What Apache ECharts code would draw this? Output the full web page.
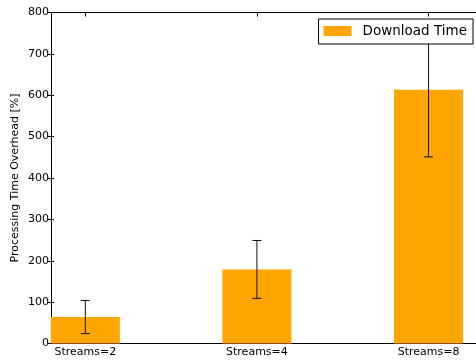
<!DOCTYPE html>
<html>
<head>
<meta charset="utf-8">
<script src="https://cdn.jsdelivr.net/npm/echarts@6/dist/echarts.min.js"></script>
<style>
  html, body { margin: 0; padding: 0; background: #fff; }
  #chart { width: 476px; height: 362px; }
</style>
</head>
<body>
<div id="chart"></div>
<script>
// Stream counts and their measured overhead (mean with symmetric error)
const categories = ['Streams=2', 'Streams=4', 'Streams=8'];
const positions = [0, 1, 2];
const overheadMean = [64, 179, 613];
const overheadErr = [40, 70, 162];
const yTicks = [0, 100, 200, 300, 400, 500, 600, 700, 800];

const FONT = 'DejaVu Sans';

const barData = positions.map((p, i) => [p, overheadMean[i]]);
const errData = positions.map((p, i) => [p, overheadMean[i] - overheadErr[i], overheadMean[i] + overheadErr[i]]);

const chart = echarts.init(document.getElementById('chart'), null, { renderer: 'canvas' });

const xCommon = {
  type: 'value',
  min: -0.2,
  max: 2.3,
  splitLine: { show: false },
  axisLine: { show: true, onZero: false, lineStyle: { color: '#000', width: 1 } }
};

chart.setOption({
  animation: false,
  backgroundColor: '#fff',
  grid: { left: 51, right: -4, top: 12.5, bottom: 18.5, containLabel: false, outerBoundsMode: 'none' },
  legend: {
    data: ['Download Time'],
    right: 3,
    top: 19,
    padding: [5, 6, 6, 5],
    itemWidth: 28,
    itemHeight: 10,
    itemGap: 0,
    backgroundColor: '#fff',
    borderColor: '#000',
    borderWidth: 1,
    borderRadius: 0,
    icon: 'rect',
    textStyle: { fontFamily: FONT, fontSize: 13.5, color: '#000', padding: [0, 0, 0, 6] }
  },
  xAxis: [
    Object.assign({}, xCommon, {
      position: 'bottom',
      axisTick: { show: true, inside: true, length: 4, customValues: positions, lineStyle: { color: '#000' } },
      axisLabel: {
        show: true,
        customValues: positions,
        margin: 3,
        fontFamily: FONT,
        fontSize: 11,
        color: '#000',
        formatter: v => categories[positions.indexOf(Math.round(v))] || ''
      }
    }),
    Object.assign({}, xCommon, {
      position: 'top',
      axisTick: { show: true, inside: true, length: 4, customValues: positions, lineStyle: { color: '#000' } },
      axisLabel: { show: false }
    })
  ],
  yAxis: [
    {
      type: 'value',
      position: 'left',
      min: yTicks[0],
      max: yTicks[yTicks.length - 1],
      interval: 100,
      name: 'Processing Time Overhead [%]',
      nameLocation: 'middle',
      nameGap: 30,
      nameMoveOverlap: false,
      nameTextStyle: { fontFamily: FONT, fontSize: 11, color: '#000' },
      splitLine: { show: false },
      axisLine: { show: true, onZero: false, lineStyle: { color: '#000', width: 1 } },
      axisTick: { show: true, inside: false, length: 3, lineStyle: { color: '#000' } },
      axisLabel: { show: true, margin: 2, fontFamily: FONT, fontSize: 11, color: '#000' }
    },
    {
      type: 'value',
      position: 'left',
      offset: 0,
      min: yTicks[0],
      max: yTicks[yTicks.length - 1],
      interval: 100,
      splitLine: { show: false },
      axisLine: { show: false, onZero: false },
      axisTick: { show: true, inside: true, length: 3, lineStyle: { color: '#000' } },
      axisLabel: { show: false }
    }
  ],
  series: [
    {
      name: 'Download Time',
      type: 'bar',
      xAxisIndex: 0,
      yAxisIndex: 0,
      data: barData,
      barWidth: 69,
      itemStyle: { color: '#FFA500' },
      z: 2
    },
    {
      name: 'error',
      type: 'custom',
      xAxisIndex: 0,
      yAxisIndex: 0,
      data: errData,
      z: 3,
      renderItem: function (params, api) {
        const x = api.value(0);
        const lo = api.coord([x, api.value(1)]);
        const hi = api.coord([x, api.value(2)]);
        const cap = 4.5;
        const style = { stroke: '#111', lineWidth: 1, fill: null };
        return {
          type: 'group',
          children: [
            { type: 'line', shape: { x1: lo[0], y1: lo[1], x2: hi[0], y2: hi[1] }, style: style },
            { type: 'line', shape: { x1: lo[0] - cap, y1: lo[1], x2: lo[0] + cap, y2: lo[1] }, style: style },
            { type: 'line', shape: { x1: hi[0] - cap, y1: hi[1], x2: hi[0] + cap, y2: hi[1] }, style: style }
          ]
        };
      }
    }
  ]
});
</script>
</body>
</html>
